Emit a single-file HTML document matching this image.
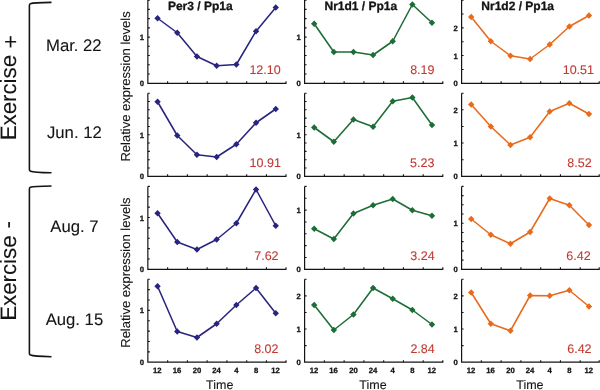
<!DOCTYPE html>
<html><head><meta charset="utf-8"><style>
html,body{margin:0;padding:0;background:#fff;width:600px;height:390px;overflow:hidden}
svg{display:block;will-change:transform}
text{font-family:"Liberation Sans",sans-serif;text-rendering:geometricPrecision}
.b{font-weight:bold}
.t{stroke-width:0.1;stroke-linejoin:round}
.b{stroke-width:0.3;stroke-linejoin:round}
</style></head><body>
<svg width="600" height="390" viewBox="0 0 600 390">
<text transform="translate(139.83 86.35)" x="0.00" class="b" style="font-size:7.70px;fill:#141414;stroke:#141414">0</text>
<text transform="translate(139.83 40.13)" x="0.00" class="b" style="font-size:7.70px;fill:#141414;stroke:#141414">1</text>
<text transform="translate(296.58 86.35)" x="0.00" class="b" style="font-size:7.70px;fill:#141414;stroke:#141414">0</text>
<text transform="translate(296.58 40.13)" x="0.00" class="b" style="font-size:7.70px;fill:#141414;stroke:#141414">1</text>
<text transform="translate(453.58 86.35)" x="0.00" class="b" style="font-size:7.70px;fill:#141414;stroke:#141414">0</text>
<text transform="translate(453.58 58.62)" x="0.00" class="b" style="font-size:7.70px;fill:#141414;stroke:#141414">1</text>
<text transform="translate(453.58 30.88)" x="0.00" class="b" style="font-size:7.70px;fill:#141414;stroke:#141414">2</text>
<text transform="translate(139.83 179.35)" x="0.00" class="b" style="font-size:7.70px;fill:#141414;stroke:#141414">0</text>
<text transform="translate(139.83 137.80)" x="0.00" class="b" style="font-size:7.70px;fill:#141414;stroke:#141414">1</text>
<text transform="translate(296.58 179.35)" x="0.00" class="b" style="font-size:7.70px;fill:#141414;stroke:#141414">0</text>
<text transform="translate(296.58 137.80)" x="0.00" class="b" style="font-size:7.70px;fill:#141414;stroke:#141414">1</text>
<text transform="translate(453.58 179.35)" x="0.00" class="b" style="font-size:7.70px;fill:#141414;stroke:#141414">0</text>
<text transform="translate(453.58 146.11)" x="0.00" class="b" style="font-size:7.70px;fill:#141414;stroke:#141414">1</text>
<text transform="translate(453.58 112.87)" x="0.00" class="b" style="font-size:7.70px;fill:#141414;stroke:#141414">2</text>
<text transform="translate(139.83 272.35)" x="0.00" class="b" style="font-size:7.70px;fill:#141414;stroke:#141414">0</text>
<text transform="translate(139.83 220.54)" x="0.00" class="b" style="font-size:7.70px;fill:#141414;stroke:#141414">1</text>
<text transform="translate(296.58 272.35)" x="0.00" class="b" style="font-size:7.70px;fill:#141414;stroke:#141414">0</text>
<text transform="translate(296.58 213.13)" x="0.00" class="b" style="font-size:7.70px;fill:#141414;stroke:#141414">1</text>
<text transform="translate(453.58 272.35)" x="0.00" class="b" style="font-size:7.70px;fill:#141414;stroke:#141414">0</text>
<text transform="translate(453.58 226.29)" x="0.00" class="b" style="font-size:7.70px;fill:#141414;stroke:#141414">1</text>
<text transform="translate(139.83 365.25)" x="0.00" class="b" style="font-size:7.70px;fill:#141414;stroke:#141414">0</text>
<text transform="translate(139.83 313.44)" x="0.00" class="b" style="font-size:7.70px;fill:#141414;stroke:#141414">1</text>
<text transform="translate(296.58 365.25)" x="0.00" class="b" style="font-size:7.70px;fill:#141414;stroke:#141414">0</text>
<text transform="translate(296.58 332.09)" x="0.00" class="b" style="font-size:7.70px;fill:#141414;stroke:#141414">1</text>
<text transform="translate(296.58 298.93)" x="0.00" class="b" style="font-size:7.70px;fill:#141414;stroke:#141414">2</text>
<text transform="translate(453.58 365.25)" x="0.00" class="b" style="font-size:7.70px;fill:#141414;stroke:#141414">0</text>
<text transform="translate(453.58 332.09)" x="0.00" class="b" style="font-size:7.70px;fill:#141414;stroke:#141414">1</text>
<text transform="translate(453.58 298.93)" x="0.00" class="b" style="font-size:7.70px;fill:#141414;stroke:#141414">2</text>
<path d="M147.85 0.1V83.3H286.5M304.6 0.1V83.3H443.3M461.6 0.1V83.3H599.7M147.85 93.2V176.3H286.5M304.6 93.2V176.3H443.3M461.6 93.2V176.3H599.7M147.85 186.4V269.3H286.5M304.6 186.4V269.3H443.3M461.6 186.4V269.3H599.7M147.85 279.3V362.2H286.5M304.6 279.3V362.2H443.3M461.6 279.3V362.2H599.7" fill="none" stroke="#141414" stroke-width="1.2"/>
<path d="M147.85 74.06h2M147.85 64.81h2M147.85 55.57h2M147.85 46.32h2M147.85 37.08h2M147.85 27.83h2M147.85 18.59h2M147.85 9.34h2M147.85 0.1h2M167.62 83.3v-2M187.39 83.3v-2M207.16 83.3v-2M226.93 83.3v-2M246.7 83.3v-2M266.47 83.3v-2M286 83.3v-2M304.6 74.06h2M304.6 64.81h2M304.6 55.57h2M304.6 46.32h2M304.6 37.08h2M304.6 27.83h2M304.6 18.59h2M304.6 9.34h2M304.6 0.1h2M324.37 83.3v-2M344.14 83.3v-2M363.91 83.3v-2M383.68 83.3v-2M403.45 83.3v-2M423.22 83.3v-2M442.8 83.3v-2M461.6 69.43h2M461.6 55.57h2M461.6 41.7h2M461.6 27.83h2M461.6 13.97h2M461.6 0.1h2M481.37 83.3v-2M501.14 83.3v-2M520.91 83.3v-2M540.68 83.3v-2M560.45 83.3v-2M580.22 83.3v-2M599.2 83.3v-2M147.85 167.99h2M147.85 159.68h2M147.85 151.37h2M147.85 143.06h2M147.85 134.75h2M147.85 126.44h2M147.85 118.13h2M147.85 109.82h2M147.85 101.51h2M147.85 93.2h2M167.62 176.3v-2M187.39 176.3v-2M207.16 176.3v-2M226.93 176.3v-2M246.7 176.3v-2M266.47 176.3v-2M286 176.3v-2M304.6 167.99h2M304.6 159.68h2M304.6 151.37h2M304.6 143.06h2M304.6 134.75h2M304.6 126.44h2M304.6 118.13h2M304.6 109.82h2M304.6 101.51h2M304.6 93.2h2M324.37 176.3v-2M344.14 176.3v-2M363.91 176.3v-2M383.68 176.3v-2M403.45 176.3v-2M423.22 176.3v-2M442.8 176.3v-2M461.6 159.68h2M461.6 143.06h2M461.6 126.44h2M461.6 109.82h2M461.6 93.2h2M481.37 176.3v-2M501.14 176.3v-2M520.91 176.3v-2M540.68 176.3v-2M560.45 176.3v-2M580.22 176.3v-2M599.2 176.3v-2M147.85 258.94h2M147.85 248.58h2M147.85 238.21h2M147.85 227.85h2M147.85 217.49h2M147.85 207.12h2M147.85 196.76h2M147.85 186.4h2M167.62 269.3v-2M187.39 269.3v-2M207.16 269.3v-2M226.93 269.3v-2M246.7 269.3v-2M266.47 269.3v-2M286 269.3v-2M304.6 257.46h2M304.6 245.61h2M304.6 233.77h2M304.6 221.93h2M304.6 210.09h2M304.6 198.24h2M304.6 186.4h2M324.37 269.3v-2M344.14 269.3v-2M363.91 269.3v-2M383.68 269.3v-2M403.45 269.3v-2M423.22 269.3v-2M442.8 269.3v-2M461.6 260.09h2M461.6 250.88h2M461.6 241.67h2M461.6 232.46h2M461.6 223.24h2M461.6 214.03h2M461.6 204.82h2M461.6 195.61h2M461.6 186.4h2M481.37 269.3v-2M501.14 269.3v-2M520.91 269.3v-2M540.68 269.3v-2M560.45 269.3v-2M580.22 269.3v-2M599.2 269.3v-2M147.85 351.84h2M147.85 341.48h2M147.85 331.11h2M147.85 320.75h2M147.85 310.39h2M147.85 300.02h2M147.85 289.66h2M147.85 279.3h2M167.62 362.2v-2M187.39 362.2v-2M207.16 362.2v-2M226.93 362.2v-2M246.7 362.2v-2M266.47 362.2v-2M286 362.2v-2M304.6 345.62h2M304.6 329.04h2M304.6 312.46h2M304.6 295.88h2M304.6 279.3h2M324.37 362.2v-2M344.14 362.2v-2M363.91 362.2v-2M383.68 362.2v-2M403.45 362.2v-2M423.22 362.2v-2M442.8 362.2v-2M461.6 345.62h2M461.6 329.04h2M461.6 312.46h2M461.6 295.88h2M461.6 279.3h2M481.37 362.2v-2M501.14 362.2v-2M520.91 362.2v-2M540.68 362.2v-2M560.45 362.2v-2M580.22 362.2v-2M599.2 362.2v-2" fill="none" stroke="#141414" stroke-width="1.1"/>
<polyline points="157.55,18.25 177.25,32.75 196.95,56.5 216.65,65.75 236.35,64.5 256.05,31.25 275.75,7.5" fill="none" stroke="#29257f" stroke-width="1.55" stroke-linejoin="round"/>
<path d="M157.55 15.05l3.2 3.2l-3.2 3.2l-3.2-3.2zM177.25 29.55l3.2 3.2l-3.2 3.2l-3.2-3.2zM196.95 53.3l3.2 3.2l-3.2 3.2l-3.2-3.2zM216.65 62.55l3.2 3.2l-3.2 3.2l-3.2-3.2zM236.35 61.3l3.2 3.2l-3.2 3.2l-3.2-3.2zM256.05 28.05l3.2 3.2l-3.2 3.2l-3.2-3.2zM275.75 4.3l3.2 3.2l-3.2 3.2l-3.2-3.2z" fill="#29257f"/>
<text transform="translate(249.40 73.80)" x="0.00" class="t" style="font-size:12.50px;fill:#c03a32;stroke:#c03a32">12.10</text>
<polyline points="314.2,23.75 333.83,52 353.46,52 373.09,55 392.72,41.25 412.35,4.5 431.98,22.75" fill="none" stroke="#1c6d36" stroke-width="1.55" stroke-linejoin="round"/>
<path d="M314.2 20.55l3.2 3.2l-3.2 3.2l-3.2-3.2zM333.83 48.8l3.2 3.2l-3.2 3.2l-3.2-3.2zM353.46 48.8l3.2 3.2l-3.2 3.2l-3.2-3.2zM373.09 51.8l3.2 3.2l-3.2 3.2l-3.2-3.2zM392.72 38.05l3.2 3.2l-3.2 3.2l-3.2-3.2zM412.35 1.3l3.2 3.2l-3.2 3.2l-3.2-3.2zM431.98 19.55l3.2 3.2l-3.2 3.2l-3.2-3.2z" fill="#1c6d36"/>
<text transform="translate(410.16 74.00)" x="0.00" class="t" style="font-size:12.50px;fill:#c03a32;stroke:#c03a32">8.19</text>
<polyline points="471.2,17 490.83,41.25 510.46,55.75 530.09,59 549.72,44.5 569.35,26.5 588.98,15.5" fill="none" stroke="#e86b1c" stroke-width="1.55" stroke-linejoin="round"/>
<path d="M471.2 13.8l3.2 3.2l-3.2 3.2l-3.2-3.2zM490.83 38.05l3.2 3.2l-3.2 3.2l-3.2-3.2zM510.46 52.55l3.2 3.2l-3.2 3.2l-3.2-3.2zM530.09 55.8l3.2 3.2l-3.2 3.2l-3.2-3.2zM549.72 41.3l3.2 3.2l-3.2 3.2l-3.2-3.2zM569.35 23.3l3.2 3.2l-3.2 3.2l-3.2-3.2zM588.98 12.3l3.2 3.2l-3.2 3.2l-3.2-3.2z" fill="#e86b1c"/>
<text transform="translate(562.71 74.10)" x="0.00" class="t" style="font-size:12.50px;fill:#c03a32;stroke:#c03a32">10.51</text>
<polyline points="157.55,101.75 177.25,135.5 196.95,154.75 216.65,157 236.35,144.25 256.05,122.75 275.75,109" fill="none" stroke="#29257f" stroke-width="1.55" stroke-linejoin="round"/>
<path d="M157.55 98.55l3.2 3.2l-3.2 3.2l-3.2-3.2zM177.25 132.3l3.2 3.2l-3.2 3.2l-3.2-3.2zM196.95 151.55l3.2 3.2l-3.2 3.2l-3.2-3.2zM216.65 153.8l3.2 3.2l-3.2 3.2l-3.2-3.2zM236.35 141.05l3.2 3.2l-3.2 3.2l-3.2-3.2zM256.05 119.55l3.2 3.2l-3.2 3.2l-3.2-3.2zM275.75 105.8l3.2 3.2l-3.2 3.2l-3.2-3.2z" fill="#29257f"/>
<text transform="translate(249.61 167.40)" x="0.00" class="t" style="font-size:12.50px;fill:#c03a32;stroke:#c03a32">10.91</text>
<polyline points="314.2,127.5 333.83,141.75 353.46,119.5 373.09,126.75 392.72,101.25 412.35,97.5 431.98,125" fill="none" stroke="#1c6d36" stroke-width="1.55" stroke-linejoin="round"/>
<path d="M314.2 124.3l3.2 3.2l-3.2 3.2l-3.2-3.2zM333.83 138.55l3.2 3.2l-3.2 3.2l-3.2-3.2zM353.46 116.3l3.2 3.2l-3.2 3.2l-3.2-3.2zM373.09 123.55l3.2 3.2l-3.2 3.2l-3.2-3.2zM392.72 98.05l3.2 3.2l-3.2 3.2l-3.2-3.2zM412.35 94.3l3.2 3.2l-3.2 3.2l-3.2-3.2zM431.98 121.8l3.2 3.2l-3.2 3.2l-3.2-3.2z" fill="#1c6d36"/>
<text transform="translate(410.01 167.40)" x="0.00" class="t" style="font-size:12.50px;fill:#c03a32;stroke:#c03a32">5.23</text>
<polyline points="471.2,104.5 490.83,126.5 510.46,145 530.09,137.25 549.72,111.5 569.35,103.25 588.98,114" fill="none" stroke="#e86b1c" stroke-width="1.55" stroke-linejoin="round"/>
<path d="M471.2 101.3l3.2 3.2l-3.2 3.2l-3.2-3.2zM490.83 123.3l3.2 3.2l-3.2 3.2l-3.2-3.2zM510.46 141.8l3.2 3.2l-3.2 3.2l-3.2-3.2zM530.09 134.05l3.2 3.2l-3.2 3.2l-3.2-3.2zM549.72 108.3l3.2 3.2l-3.2 3.2l-3.2-3.2zM569.35 100.05l3.2 3.2l-3.2 3.2l-3.2-3.2zM588.98 110.8l3.2 3.2l-3.2 3.2l-3.2-3.2z" fill="#e86b1c"/>
<text transform="translate(567.28 167.40)" x="0.00" class="t" style="font-size:12.50px;fill:#c03a32;stroke:#c03a32">8.52</text>
<polyline points="157.55,213.25 177.25,242 196.95,249.5 216.65,239.5 236.35,223.25 256.05,189.5 275.75,225.75" fill="none" stroke="#29257f" stroke-width="1.55" stroke-linejoin="round"/>
<path d="M157.55 210.05l3.2 3.2l-3.2 3.2l-3.2-3.2zM177.25 238.8l3.2 3.2l-3.2 3.2l-3.2-3.2zM196.95 246.3l3.2 3.2l-3.2 3.2l-3.2-3.2zM216.65 236.3l3.2 3.2l-3.2 3.2l-3.2-3.2zM236.35 220.05l3.2 3.2l-3.2 3.2l-3.2-3.2zM256.05 186.3l3.2 3.2l-3.2 3.2l-3.2-3.2zM275.75 222.55l3.2 3.2l-3.2 3.2l-3.2-3.2z" fill="#29257f"/>
<text transform="translate(254.23 260.20)" x="0.00" class="t" style="font-size:12.50px;fill:#c03a32;stroke:#c03a32">7.62</text>
<polyline points="314.2,228.75 333.83,239 353.46,213.5 373.09,205.25 392.72,199 412.35,210.25 431.98,215.75" fill="none" stroke="#1c6d36" stroke-width="1.55" stroke-linejoin="round"/>
<path d="M314.2 225.55l3.2 3.2l-3.2 3.2l-3.2-3.2zM333.83 235.8l3.2 3.2l-3.2 3.2l-3.2-3.2zM353.46 210.3l3.2 3.2l-3.2 3.2l-3.2-3.2zM373.09 202.05l3.2 3.2l-3.2 3.2l-3.2-3.2zM392.72 195.8l3.2 3.2l-3.2 3.2l-3.2-3.2zM412.35 207.05l3.2 3.2l-3.2 3.2l-3.2-3.2zM431.98 212.55l3.2 3.2l-3.2 3.2l-3.2-3.2z" fill="#1c6d36"/>
<text transform="translate(410.28 260.20)" x="0.00" class="t" style="font-size:12.50px;fill:#c03a32;stroke:#c03a32">3.24</text>
<polyline points="471.2,219 490.83,234.75 510.46,243.75 530.09,232 549.72,198.5 569.35,205.25 588.98,225" fill="none" stroke="#e86b1c" stroke-width="1.55" stroke-linejoin="round"/>
<path d="M471.2 215.8l3.2 3.2l-3.2 3.2l-3.2-3.2zM490.83 231.55l3.2 3.2l-3.2 3.2l-3.2-3.2zM510.46 240.55l3.2 3.2l-3.2 3.2l-3.2-3.2zM530.09 228.8l3.2 3.2l-3.2 3.2l-3.2-3.2zM549.72 195.3l3.2 3.2l-3.2 3.2l-3.2-3.2zM569.35 202.05l3.2 3.2l-3.2 3.2l-3.2-3.2zM588.98 221.8l3.2 3.2l-3.2 3.2l-3.2-3.2z" fill="#e86b1c"/>
<text transform="translate(566.33 260.20)" x="0.00" class="t" style="font-size:12.50px;fill:#c03a32;stroke:#c03a32">6.42</text>
<polyline points="157.55,286.25 177.25,331.5 196.95,337.5 216.65,323.75 236.35,305 256.05,288 275.75,313.25" fill="none" stroke="#29257f" stroke-width="1.55" stroke-linejoin="round"/>
<path d="M157.55 283.05l3.2 3.2l-3.2 3.2l-3.2-3.2zM177.25 328.3l3.2 3.2l-3.2 3.2l-3.2-3.2zM196.95 334.3l3.2 3.2l-3.2 3.2l-3.2-3.2zM216.65 320.55l3.2 3.2l-3.2 3.2l-3.2-3.2zM236.35 301.8l3.2 3.2l-3.2 3.2l-3.2-3.2zM256.05 284.8l3.2 3.2l-3.2 3.2l-3.2-3.2zM275.75 310.05l3.2 3.2l-3.2 3.2l-3.2-3.2z" fill="#29257f"/>
<text transform="translate(254.13 353.10)" x="0.00" class="t" style="font-size:12.50px;fill:#c03a32;stroke:#c03a32">8.02</text>
<polyline points="314.2,305 333.83,330 353.46,314.5 373.09,288 392.72,298.75 412.35,310 431.98,324.5" fill="none" stroke="#1c6d36" stroke-width="1.55" stroke-linejoin="round"/>
<path d="M314.2 301.8l3.2 3.2l-3.2 3.2l-3.2-3.2zM333.83 326.8l3.2 3.2l-3.2 3.2l-3.2-3.2zM353.46 311.3l3.2 3.2l-3.2 3.2l-3.2-3.2zM373.09 284.8l3.2 3.2l-3.2 3.2l-3.2-3.2zM392.72 295.55l3.2 3.2l-3.2 3.2l-3.2-3.2zM412.35 306.8l3.2 3.2l-3.2 3.2l-3.2-3.2zM431.98 321.3l3.2 3.2l-3.2 3.2l-3.2-3.2z" fill="#1c6d36"/>
<text transform="translate(410.40 352.90)" x="0.00" class="t" style="font-size:12.50px;fill:#c03a32;stroke:#c03a32">2.84</text>
<polyline points="471.2,292.5 490.83,323.75 510.46,330.75 530.09,295.5 549.72,295.75 569.35,290.25 588.98,306.5" fill="none" stroke="#e86b1c" stroke-width="1.55" stroke-linejoin="round"/>
<path d="M471.2 289.3l3.2 3.2l-3.2 3.2l-3.2-3.2zM490.83 320.55l3.2 3.2l-3.2 3.2l-3.2-3.2zM510.46 327.55l3.2 3.2l-3.2 3.2l-3.2-3.2zM530.09 292.3l3.2 3.2l-3.2 3.2l-3.2-3.2zM549.72 292.55l3.2 3.2l-3.2 3.2l-3.2-3.2zM569.35 287.05l3.2 3.2l-3.2 3.2l-3.2-3.2zM588.98 303.3l3.2 3.2l-3.2 3.2l-3.2-3.2z" fill="#e86b1c"/>
<text transform="translate(567.23 352.90)" x="0.00" class="t" style="font-size:12.50px;fill:#c03a32;stroke:#c03a32">6.42</text>
<text transform="translate(167.91 10.13)" x="0.00" class="b" style="font-size:12.00px;fill:#141414;stroke:#141414">Per3 / Pp1a</text>
<text transform="translate(153.07 372.50)" x="0.00" class="b" style="font-size:7.70px;fill:#141414;stroke:#141414">12</text>
<text transform="translate(172.75 372.50)" x="0.00" class="b" style="font-size:7.70px;fill:#141414;stroke:#141414">16</text>
<text transform="translate(192.69 372.50)" x="0.00" class="b" style="font-size:7.70px;fill:#141414;stroke:#141414">20</text>
<text transform="translate(212.25 372.50)" x="0.00" class="b" style="font-size:7.70px;fill:#141414;stroke:#141414">24</text>
<text transform="translate(234.17 372.50)" x="0.00" class="b" style="font-size:7.70px;fill:#141414;stroke:#141414">4</text>
<text transform="translate(253.91 372.50)" x="0.00" class="b" style="font-size:7.70px;fill:#141414;stroke:#141414">8</text>
<text transform="translate(271.27 372.50)" x="0.00" class="b" style="font-size:7.70px;fill:#141414;stroke:#141414">12</text>
<text transform="translate(206.08 389.40)" x="0.00" class="t" style="font-size:12.50px;fill:#141414;stroke:#141414">Time</text>
<text transform="translate(324.46 10.13)" x="0.00" class="b" style="font-size:12.00px;fill:#141414;stroke:#141414">Nr1d1 / Pp1a</text>
<text transform="translate(309.72 372.50)" x="0.00" class="b" style="font-size:7.70px;fill:#141414;stroke:#141414">12</text>
<text transform="translate(329.33 372.50)" x="0.00" class="b" style="font-size:7.70px;fill:#141414;stroke:#141414">16</text>
<text transform="translate(349.20 372.50)" x="0.00" class="b" style="font-size:7.70px;fill:#141414;stroke:#141414">20</text>
<text transform="translate(368.69 372.50)" x="0.00" class="b" style="font-size:7.70px;fill:#141414;stroke:#141414">24</text>
<text transform="translate(390.54 372.50)" x="0.00" class="b" style="font-size:7.70px;fill:#141414;stroke:#141414">4</text>
<text transform="translate(410.21 372.50)" x="0.00" class="b" style="font-size:7.70px;fill:#141414;stroke:#141414">8</text>
<text transform="translate(427.50 372.50)" x="0.00" class="b" style="font-size:7.70px;fill:#141414;stroke:#141414">12</text>
<text transform="translate(359.33 389.40)" x="0.00" class="t" style="font-size:12.50px;fill:#141414;stroke:#141414">Time</text>
<text transform="translate(481.31 10.13)" x="0.00" class="b" style="font-size:12.00px;fill:#141414;stroke:#141414">Nr1d2 / Pp1a</text>
<text transform="translate(466.72 372.50)" x="0.00" class="b" style="font-size:7.70px;fill:#141414;stroke:#141414">12</text>
<text transform="translate(486.33 372.50)" x="0.00" class="b" style="font-size:7.70px;fill:#141414;stroke:#141414">16</text>
<text transform="translate(506.20 372.50)" x="0.00" class="b" style="font-size:7.70px;fill:#141414;stroke:#141414">20</text>
<text transform="translate(525.69 372.50)" x="0.00" class="b" style="font-size:7.70px;fill:#141414;stroke:#141414">24</text>
<text transform="translate(547.54 372.50)" x="0.00" class="b" style="font-size:7.70px;fill:#141414;stroke:#141414">4</text>
<text transform="translate(567.21 372.50)" x="0.00" class="b" style="font-size:7.70px;fill:#141414;stroke:#141414">8</text>
<text transform="translate(584.50 372.50)" x="0.00" class="b" style="font-size:7.70px;fill:#141414;stroke:#141414">12</text>
<text transform="translate(516.23 389.40)" x="0.00" class="t" style="font-size:12.50px;fill:#141414;stroke:#141414">Time</text>
<text transform="translate(129.70 161.60) rotate(-90)" x="0.00" class="t" style="font-size:13.00px;fill:#141414;stroke:#141414">Relative expression levels</text>
<text transform="translate(129.70 347.75) rotate(-90)" x="0.00" class="t" style="font-size:13.00px;fill:#141414;stroke:#141414">Relative expression levels</text>
<text transform="translate(45.99 50.74)" x="0.00" class="t" style="font-size:16.70px;fill:#141414;stroke:#141414">Mar. 22</text>
<text transform="translate(47.00 138.44)" x="0.00" class="t" style="font-size:16.70px;fill:#141414;stroke:#141414">Jun. 12</text>
<text transform="translate(50.36 232.39)" x="0.00" class="t" style="font-size:16.70px;fill:#141414;stroke:#141414">Aug. 7</text>
<text transform="translate(45.65 325.24)" x="0.00" class="t" style="font-size:16.70px;fill:#141414;stroke:#141414">Aug. 15</text>
<text transform="translate(15.90 140.37) rotate(-90)" x="0.00" class="t" style="font-size:22.30px;fill:#141414;stroke:#141414">Exercise</text>
<text transform="translate(15.90 320.87) rotate(-90)" x="0.00" class="t" style="font-size:22.30px;fill:#141414;stroke:#141414">Exercise</text>
<text transform="translate(17.67 48.20) rotate(-90)" x="0.00" class="t" style="font-size:22.30px;fill:#141414;stroke:#141414">+</text>
<text transform="translate(15.22 228.46) rotate(-90)" x="0.00" class="t" style="font-size:22.30px;fill:#141414;stroke:#141414">-</text>
<path d="M51.5 2.4C42 2.5 33 2.7 30.3 3.7Q29.4 4.1 29.4 5.5V169.5Q29.4 170.8 30.5 171.2C33 172.3 42 172.6 51.5 172.7M51.5 186C42 186.1 33 186.4 30.3 187.3Q29.4 187.7 29.4 189V353.4Q29.4 354.7 30.5 355.1C33 356.2 42 356.6 51.5 356.7" fill="none" stroke="#141414" stroke-width="1.6"/>
</svg>
</body></html>
